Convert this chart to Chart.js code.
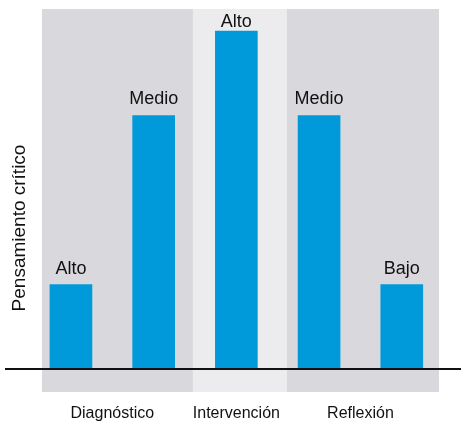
<!DOCTYPE html>
<html><head><meta charset="utf-8">
<script src="https://cdn.jsdelivr.net/npm/chart.js@4"></script>
<style>html,body{margin:0;padding:0;background:#fff}#wrap{width:461px;height:425px}</style>
</head><body><div id="wrap"><canvas id="c" width="461" height="425"></canvas></div>
<script>
// ---- data ----
const groups = ['Diagnóstico', 'Intervención', 'Reflexión'];
const groupCenters = [1.5, 3, 4.5];
const groupBands = [[0.65, 2.475], [2.475, 3.61], [3.61, 5.45]];
const barPositions = [1, 2, 3, 4, 5];
const values = [1, 3, 4, 3, 1];
const levelLabels = ['Alto', 'Medio', 'Alto', 'Medio', 'Bajo'];
const yTitle = 'Pensamiento crítico';

const FONT = "'Liberation Sans', Arial, Helvetica, sans-serif";
const bandFill = ['#d9d9dd', '#ececee', '#d9d9dd'];

const decor = {
  id: 'decor',
  beforeDatasetsDraw(chart) {
    const {ctx, chartArea: a, scales: {x}} = chart;
    ctx.save();
    groupBands.forEach((b, i) => {
      const x0 = x.getPixelForValue(b[0]), x1 = x.getPixelForValue(b[1]);
      ctx.fillStyle = bandFill[i];
      ctx.fillRect(x0, a.top, x1 - x0, a.bottom - a.top);
    });
    ctx.restore();
  },
  afterDatasetsDraw(chart) {
    const {ctx, chartArea: a, scales: {x, y}} = chart;
    ctx.save();
    // baseline
    const y0 = y.getPixelForValue(0);
    ctx.strokeStyle = '#111';
    ctx.lineWidth = 2;
    ctx.beginPath();
    ctx.moveTo(5, y0);
    ctx.lineTo(chart.width, y0);
    ctx.stroke();
    // bar labels
    ctx.fillStyle = '#111';
    ctx.font = '18px ' + FONT;
    ctx.textAlign = 'center';
    ctx.textBaseline = 'alphabetic';
    const meta = chart.getDatasetMeta(0);
    meta.data.forEach((bar, i) => {
      const ty = Math.max(bar.y - 11, a.top + 18);
      ctx.fillText(levelLabels[i], bar.x, ty);
    });
    // y title
    ctx.font = '19px ' + FONT;
    ctx.translate(19.5, 228);
    ctx.rotate(-Math.PI / 2);
    ctx.textBaseline = 'middle';
    ctx.fillText(yTitle, 0, 0);
    ctx.restore();
  }
};

new Chart(document.getElementById('c'), {
  type: 'bar',
  data: {
    datasets: [{
      data: barPositions.map((p, i) => ({x: p, y: values[i]})),
      backgroundColor: '#0099d9',
      borderWidth: 0,
      barThickness: 42
    }]
  },
  options: {
    responsive: false,
    animation: false,
    devicePixelRatio: 1,
    layout: {padding: {left: 42, right: 22, top: 9, bottom: 0}},
    plugins: {legend: {display: false}, tooltip: {enabled: false}},
    scales: {
      x: {
        type: 'linear',
        offset: false,
        min: 0.65, max: 5.45,
        grid: {display: false, drawTicks: false},
        border: {display: false},
        afterBuildTicks: s => { s.ticks = groupCenters.map(v => ({value: v})); },
        afterFit: s => { s.height = 33; },
        ticks: {
          autoSkip: false, maxRotation: 0, padding: 12,
          color: '#111',
          font: {family: FONT, size: 16},
          callback: (v, i) => groups[i]
        }
      },
      y: {
        display: false,
        min: -0.272, max: 4.26
      }
    }
  },
  plugins: [decor]
});
</script>
</body></html>
